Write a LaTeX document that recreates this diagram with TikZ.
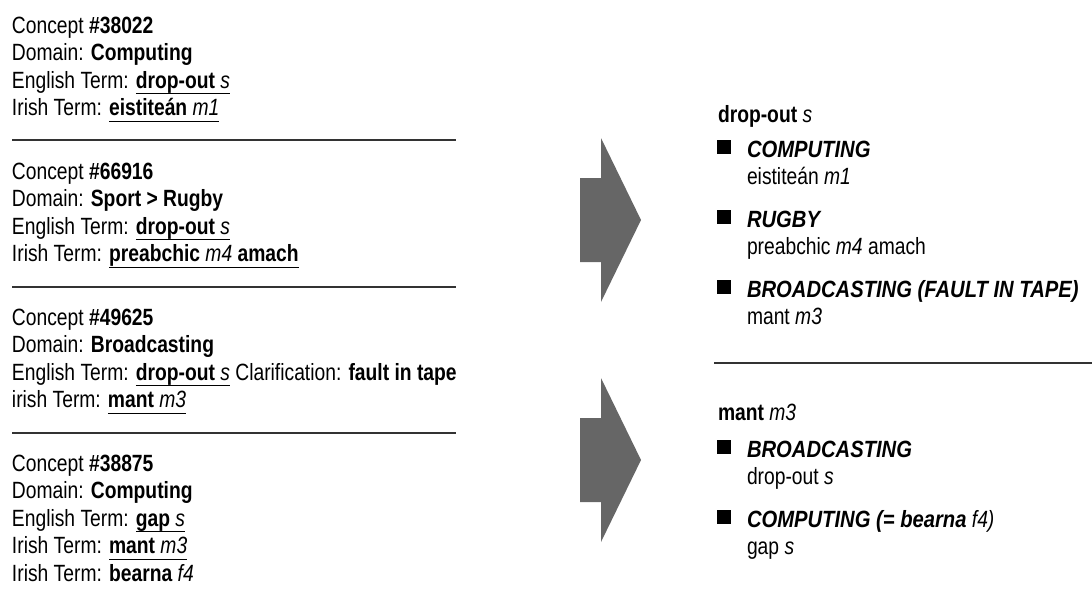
\documentclass[tikz,border=0pt]{standalone}
\usepackage{fontspec}
\setmainfont{Liberation Sans}[UprightFeatures={FakeStretch=0.82},BoldFeatures={FakeStretch=0.82},ItalicFeatures={FakeStretch=0.82},BoldItalicFeatures={FakeStretch=0.86}]
\newcommand{\myul}[1]{\setbox0\hbox{#1}\rlap{\vrule height -5pt depth 6.3pt width \wd0}\box0\relax}
\begin{document}
\begin{tikzpicture}[x=1pt,y=-1pt,
  txt/.style={anchor=base west, inner sep=0pt, outer sep=0pt, font=\fontsize{23.5}{27.5}\selectfont, text=black},
  sepline/.style={line width=1.3pt, draw=black!80},
  bigarrow/.style={fill=black!60, draw=none},
  bullet/.style={fill=black, draw=none, minimum size=14pt, inner sep=0pt, outer sep=0pt, anchor=south west}]
\useasboundingbox (0,0) rectangle (1092,590);
% ---- left: concept blocks ----
\node[txt] (c1a) at (12,33) {Concept \textbf{\#38022}};
\node[txt] (c1b) at (12,60.5) {Domain: \textbf{Computing}};
\node[txt] (c1c) at (12,88) {English Term: \myul{\textbf{drop-out} \textit{s}}};
\node[txt] (c1d) at (12,115.5) {Irish Term: \myul{\textbf{eistiteán} \textit{m1}}};
\coordinate (s1l) at (12,140); \coordinate (s1r) at (456,140);
\draw[sepline] (s1l) -- (s1r);
\node[txt] (c2a) at (12,179) {Concept \textbf{\#66916}};
\node[txt] (c2b) at (12,206.5) {Domain: \textbf{Sport > Rugby}};
\node[txt] (c2c) at (12,234) {English Term: \myul{\textbf{drop-out} \textit{s}}};
\node[txt] (c2d) at (12,261.5) {Irish Term: \myul{\textbf{preabchic} \textit{m4} \textbf{amach}}};
\coordinate (s2l) at (12,287); \coordinate (s2r) at (456,287);
\draw[sepline] (s2l) -- (s2r);
\node[txt] (c3a) at (12,325) {Concept \textbf{\#49625}};
\node[txt] (c3b) at (12,352.5) {Domain: \textbf{Broadcasting}};
\node[txt] (c3c) at (12,380) {English Term: \myul{\textbf{drop-out} \textit{s}} Clarification: \textbf{fault in tape}};
\node[txt] (c3d) at (12,407.5) {irish Term: \myul{\textbf{mant} \textit{m3}}};
\coordinate (s3l) at (12,433); \coordinate (s3r) at (456,433);
\draw[sepline] (s3l) -- (s3r);
\node[txt] (c4a) at (12,471) {Concept \textbf{\#38875}};
\node[txt] (c4b) at (12,498.5) {Domain: \textbf{Computing}};
\node[txt] (c4c) at (12,526) {English Term: \myul{\textbf{gap} \textit{s}}};
\node[txt] (c4d) at (12,553.5) {Irish Term: \myul{\textbf{mant} \textit{m3}}};
\node[txt] (c4e) at (12,581) {Irish Term: \textbf{bearna} \textit{f4}};
% ---- arrows ----
\fill[bigarrow] (580,178) -- (601,178) -- (601,138) -- (641,220) -- (601,302) -- (601,262) -- (580,262) -- cycle;
\fill[bigarrow] (580,418) -- (601,418) -- (601,378) -- (641,460) -- (601,542) -- (601,502) -- (580,502) -- cycle;
% ---- right: entry drop-out ----
\node[txt] (h1) at (718,122) {\textbf{drop-out} \textit{s}};
\node[bullet] (b11) at (717,154) {};
\node[txt] (l11) at (747,157) {\textbf{\textit{COMPUTING}}};
\node[txt] (v11) at (747,184) {eistiteán \textit{m1}};
\node[bullet] (b12) at (717,224) {};
\node[txt] (l12) at (747,227) {\textbf{\textit{RUGBY}}};
\node[txt] (v12) at (747,254) {preabchic \textit{m4} amach};
\node[bullet] (b13) at (717,294) {};
\node[txt] (l13) at (747,297) {\textbf{\textit{BROADCASTING (FAULT IN TAPE)}}};
\node[txt] (v13) at (747,324) {mant \textit{m3}};
\coordinate (s4l) at (714,363); \coordinate (s4r) at (1092,363);
\draw[sepline] (s4l) -- (s4r);
% ---- right: entry mant ----
\node[txt] (h2) at (718,420) {\textbf{mant} \textit{m3}};
\node[bullet] (b21) at (717,454) {};
\node[txt] (l21) at (747,457) {\textbf{\textit{BROADCASTING}}};
\node[txt] (v21) at (747,484) {drop-out \textit{s}};
\node[bullet] (b22) at (717,524) {};
\node[txt] (l22) at (747,527) {\textbf{\textit{COMPUTING (= bearna}} \textit{f4)}};
\node[txt] (v22) at (747,554) {gap \textit{s}};
\end{tikzpicture}
\end{document}
